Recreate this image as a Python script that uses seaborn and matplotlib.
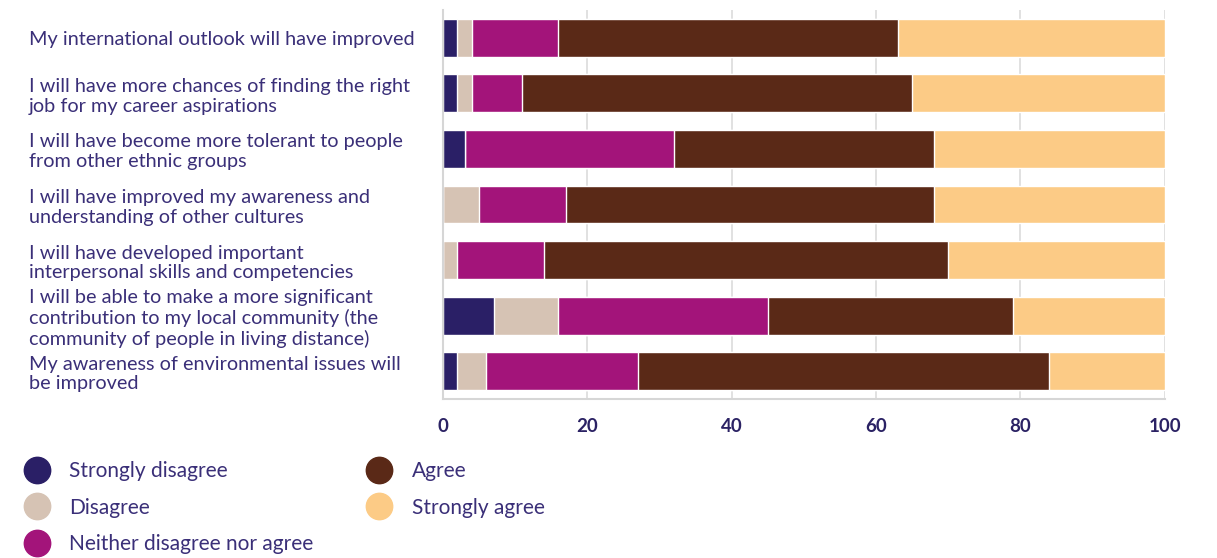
import matplotlib
matplotlib.use("Agg")
import matplotlib.pyplot as plt
from matplotlib.lines import Line2D
import pandas as pd
import seaborn as sns

statements = [
    "My international outlook will have improved",
    "I will have more chances of finding the right\njob for my career aspirations",
    "I will have become more tolerant to people\nfrom other ethnic groups",
    "I will have improved my awareness and\nunderstanding of other cultures",
    "I will have developed important\ninterpersonal skills and competencies",
    "I will be able to make a more significant\ncontribution to my local community (the\ncommunity of people in living distance)",
    "My awareness of environmental issues will\nbe improved",
]
responses = ["Strongly disagree", "Disagree", "Neither disagree nor agree",
             "Agree", "Strongly agree"]

strongly_disagree = [2, 2, 3, 0, 0, 7, 2]
disagree = [2, 2, 0, 5, 2, 9, 4]
neither = [12, 7, 29, 12, 12, 29, 21]
agree = [47, 54, 36, 51, 56, 34, 57]
strongly_agree = [37, 35, 32, 32, 30, 21, 16]

colors = ["#2a1f66", "#d6c3b4", "#a3147a", "#5a2917", "#fccb86"]
text_color = "#3a2f78"
tick_color = "#2b2264"

df = pd.DataFrame({
    "statement": statements,
    responses[0]: strongly_disagree,
    responses[1]: disagree,
    responses[2]: neither,
    responses[3]: agree,
    responses[4]: strongly_agree,
})

sns.set_style("white")
plt.rcParams["font.family"] = ["Lato", "DejaVu Sans"]

fig = plt.figure(figsize=(12.17, 5.58), dpi=100)
ax = fig.add_axes([0.364, 0.285, 0.593, 0.697])

# stacked bars: draw cumulative totals from the last category backwards
cum = df[responses].cumsum(axis=1)
for resp, col in reversed(list(zip(responses, colors))):
    sns.barplot(x=cum[resp], y=df["statement"], color=col, orient="h",
                width=0.68, saturation=1, ax=ax)

ax.set_xlim(0, 100)
ax.set_ylim(6.5, -0.5)
ax.set_xticks([0, 20, 40, 60, 80, 100])
ax.set_xlabel("")
ax.set_ylabel("")
ax.set_axisbelow(True)
ax.grid(axis="x", color="#dcdcdc", linewidth=1.2)
for side in ["top", "right"]:
    ax.spines[side].set_visible(False)
for side in ["left", "bottom"]:
    ax.spines[side].set_color("#d6d6d6")
    ax.spines[side].set_linewidth(1.5)

ax.tick_params(axis="x", length=0, pad=14, labelsize=13.5, labelcolor=tick_color)
for lab in ax.get_xticklabels():
    lab.set_fontweight("bold")
ax.tick_params(axis="y", length=0, pad=298, labelsize=14.3, labelcolor=text_color)
for lab in ax.get_yticklabels():
    lab.set_horizontalalignment("left")
    lab.set_linespacing(1.2)

handles = [Line2D([0], [0], marker="o", linestyle="", markersize=19,
                  markerfacecolor=c, markeredgecolor=c) for c in colors]
leg = fig.legend(handles, responses, ncol=2, loc="upper left",
                 bbox_to_anchor=(0.010, 0.188), frameon=False, fontsize=15,
                 handlelength=1.6, handletextpad=0.75, columnspacing=2.35,
                 labelspacing=0.78, borderaxespad=0)
for t in leg.get_texts():
    t.set_color(text_color)

fig.savefig("out.png", dpi=100)
